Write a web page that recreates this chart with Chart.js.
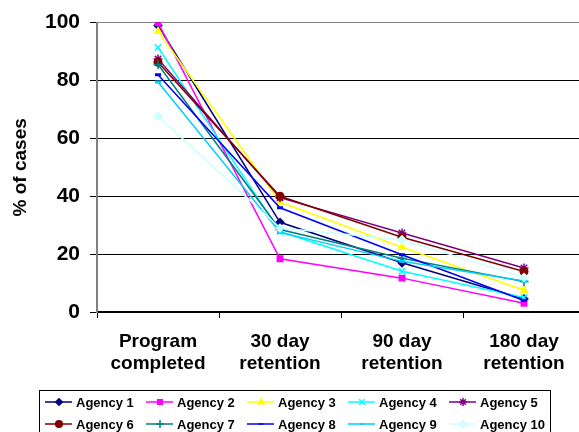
<!DOCTYPE html>
<html>
<head>
<meta charset="utf-8">
<script src="https://cdn.jsdelivr.net/npm/chart.js@4/dist/chart.umd.min.js"></script>
<style>
  html, body { margin: 0; padding: 0; background: #fff; overflow: hidden; }
  #wrap { width: 592px; height: 432px; }
</style>
</head>
<body>
<div id="wrap"><canvas id="retention"></canvas></div>
<script>
const categories = [
  ['Program', 'completed'],
  ['30 day', 'retention'],
  ['90 day', 'retention'],
  ['180 day', 'retention'],
]
const yTicks = [0, 20, 40, 60, 80, 100]

const agency1 = [99, 31, 17, 4.5]
const agency2 = [100, 18.4, 11.7, 3]
const agency3 = [97, 38, 22.4, 7.5]
const agency4 = [91.4, 27.8, 14.1, 5]
const agency5 = [87.4, 39.5, 27.3, 15.2]
const agency6 = [86.3, 40, 25.8, 14]
const agency7 = [85.5, 28.5, 18.6, 10.5]
const agency8 = [82, 36, 19.8, 4]
const agency9 = [79.5, 27.5, 17.5, 10.7]
const agency10 = [67.7, 29, 25, 12]

const FONT = "Arial, 'Liberation Sans', sans-serif"

// name, values, colour, marker
const series = [
  ['Agency 1', agency1, '#000080', 'rectRot'],
  ['Agency 2', agency2, '#FF00FF', 'rect'],
  ['Agency 3', agency3, '#FFFF00', 'triangle'],
  ['Agency 4', agency4, '#00FFFF', 'crossRot'],
  ['Agency 5', agency5, '#800080', 'star'],
  ['Agency 6', agency6, '#800000', 'circle'],
  ['Agency 7', agency7, '#008080', 'cross'],
  ['Agency 8', agency8, '#0000FF', 'line'],
  ['Agency 9', agency9, '#00CCFF', 'line'],
  ['Agency 10', agency10, '#CCFFFF', 'rectRot'],
]

const markerRadius = style => {
  if (style === 'line') return 3
  if (style === 'crossRot' || style === 'cross' || style === 'star') return 4.5
  return 3.8
}

const datasets = series.map(([name, values, color, style], i) => ({
  label: name,
  data: values,
  borderColor: color,
  backgroundColor: color,
  borderWidth: 1.5,
  pointStyle: style,
  pointRadius: markerRadius(style),
  pointBorderWidth: style === 'line' ? 3 : 1.5,
  pointBackgroundColor: color,
  pointBorderColor: color,
  tension: 0,
  order: 10 - i,
}))

// legend drawn by hand so the columns line up like the original
const gridLegend = {
  id: 'gridLegend',
  afterDraw(chart) {
    const ctx = chart.ctx
    ctx.save()
    ctx.strokeStyle = '#000'
    ctx.lineWidth = 1
    ctx.strokeRect(39.5, 390.5, 511, 50)
    ctx.font = 'bold 13px ' + FONT
    ctx.textBaseline = 'middle'
    ctx.textAlign = 'left'
    series.forEach(([name, , color, style], i) => {
      const col = i % 5
      const row = Math.floor(i / 5)
      const x = 45 + col * 101
      const y = row === 0 ? 402 : 424
      ctx.strokeStyle = color
      ctx.lineWidth = 1.5
      ctx.beginPath()
      ctx.moveTo(x, y)
      ctx.lineTo(x + 27, y)
      ctx.stroke()
      ctx.fillStyle = color
      ctx.strokeStyle = color
      Chart.helpers.drawPoint(
        ctx,
        {
          pointStyle: style,
          radius: markerRadius(style) - 0.5,
          rotation: 0,
          borderWidth: style === 'line' ? 3 : 1.5,
        },
        x + 14,
        y
      )
      ctx.fillStyle = '#000'
      ctx.fillText(name, x + 31, y + 1)
    })
    ctx.restore()
  },
}

const ctxRetention = document.getElementById('retention').getContext('2d')
const retentionChart = new Chart(ctxRetention, {
  type: 'line',
  data: { labels: categories, datasets },
  plugins: [gridLegend],
  options: {
    responsive: true,
    maintainAspectRatio: false,
    animation: false,
    layout: { padding: { top: 16, bottom: 43, left: 0, right: 2 } },
    plugins: {
      legend: { display: false },
      tooltip: { enabled: false },
    },
    scales: {
      x: {
        offset: true,
        grid: {
          offset: true,
          drawOnChartArea: false,
          drawTicks: true,
          tickLength: 6,
          tickColor: '#000',
        },
        border: { color: '#000', width: 1.5 },
        ticks: {
          color: '#000',
          padding: 12,
          maxRotation: 0,
          font: { family: FONT, size: 19, weight: 'bold', lineHeight: 1.2 },
        },
        afterFit: scale => {
          scale.height = 77
        },
      },
      y: {
        min: 0,
        max: 100,
        afterBuildTicks: scale => {
          scale.ticks = yTicks.map(v => ({ value: v }))
        },
        grid: {
          color: ctx => (ctx.tick && ctx.tick.value === 100 ? '#808080' : '#000'),
          lineWidth: 1,
          tickLength: 7,
          tickColor: '#000',
        },
        border: { color: '#808080', width: 2 },
        ticks: {
          color: '#000',
          padding: 10,
          font: { family: FONT, size: 21, weight: 'bold' },
        },
        title: {
          display: true,
          text: '% of cases',
          color: '#000',
          padding: { top: 9, bottom: 0 },
          font: { family: FONT, size: 19, weight: 'bold' },
        },
        afterFit: scale => {
          scale.width = 97
        },
      },
    },
  },
})
</script>
</body>
</html>
